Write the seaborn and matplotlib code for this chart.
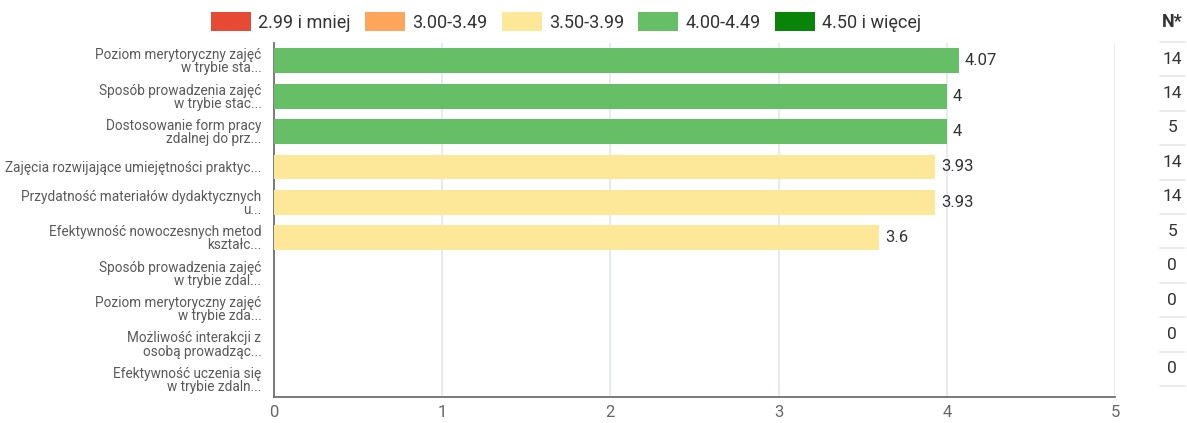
import numpy as np
import pandas as pd
import matplotlib.pyplot as plt
import seaborn as sns
from matplotlib.patches import Patch
from matplotlib.transforms import blended_transform_factory

# data
labels = ["Poziom merytoryczny zajęć\nw trybie sta...",
          "Sposób prowadzenia zajęć\nw trybie stac...",
          "Dostosowanie form pracy\nzdalnej do prz...",
          "Zajęcia rozwijające umiejętności praktyc...",
          "Przydatność materiałów dydaktycznych\nu...",
          "Efektywność nowoczesnych metod\nkształc...",
          "Sposób prowadzenia zajęć\nw trybie zdal...",
          "Poziom merytoryczny zajęć\nw trybie zda...",
          "Możliwość interakcji z\nosobą prowadząc...",
          "Efektywność uczenia się\nw trybie zdaln..."]
scores = [4.07, 4, 4, 3.93, 3.93, 3.6, 0, 0, 0, 0]
n_counts = [14, 14, 5, 14, 14, 5, 0, 0, 0, 0]

ranges = ["2.99 i mniej", "3.00-3.49", "3.50-3.99", "4.00-4.49", "4.50 i więcej"]
range_colors = ["#E64A35", "#FDA65B", "#FDE89A", "#66BF66", "#088408"]
palette = dict(zip(ranges, range_colors))


def score_range(v):
    if v < 3.0:
        return ranges[0]
    if v < 3.5:
        return ranges[1]
    if v < 4.0:
        return ranges[2]
    if v < 4.5:
        return ranges[3]
    return ranges[4]


df = pd.DataFrame({"label": labels, "score": scores, "N": n_counts})
df["range"] = df.score.apply(score_range)

sns.set_style("white")
plt.rcParams['font.family'] = ['Roboto', 'DejaVu Sans']

fig = plt.figure(figsize=(11.87, 4.23), dpi=100)
ax = fig.add_axes([0.2308, 0.0615, 0.7085, 0.8368])

sns.barplot(data=df, x="score", y="label", hue="range", palette=palette,
            hue_order=ranges, dodge=False, width=0.7, linewidth=0,
            saturation=1, legend=False, ax=ax, zorder=3)

ax.set_xlim(0, 5)
ax.set_ylim(9.5, -0.5)
ax.set_xticks(range(6))
ax.set_xlabel("")
ax.set_ylabel("")
ax.grid(axis="x", color="#E3E6EF", linewidth=1.2, zorder=0)
ax.grid(axis="y", visible=False)

for s in ["top", "right"]:
    ax.spines[s].set_visible(False)
for s in ["left", "bottom"]:
    ax.spines[s].set_color("#707070")
    ax.spines[s].set_linewidth(1.3)

ax.tick_params(axis="x", length=0, labelsize=12, labelcolor="#666666", pad=6)
ax.tick_params(axis="y", which="major", length=0, labelsize=9.8,
               labelcolor="#5A5A5A", pad=9)
ax.set_yticks(np.arange(-0.5, 10, 1), minor=True)
ax.tick_params(axis="y", which="minor", length=6, width=1.3, color="#707070")
for t in ax.get_yticklabels():
    t.set_horizontalalignment("right")
    t.set_multialignment("right")
    t.set_linespacing(0.92)

# value labels
for i, v in enumerate(df.score):
    if v > 0:
        ax.text(v + 0.035, i, f"{v:g}", va="center", ha="left",
                fontsize=12, color="#333333")

# N* column on the right
bt = blended_transform_factory(fig.transFigure, fig.transFigure)
fig.text(0.9875, 0.948, "N*", ha="center", va="center", fontsize=13,
         fontweight="bold", color="#333333")
row_top = 1 - 42 / 423
row_h = 34.4 / 423
for i, n in enumerate(df.N):
    yc = row_top - (i + 0.5) * row_h
    fig.text(0.9875, yc, str(n), ha="center", va="center", fontsize=12.5,
             color="#333333")
for i in range(11):
    yl = row_top - i * row_h
    fig.add_artist(plt.Line2D([1160 / 1187, 1185 / 1187], [yl, yl],
                              color="#E8E8E8", linewidth=1.2, transform=bt))

# legend
handles = [Patch(facecolor=palette[r], edgecolor="none", label=r) for r in ranges]
fig.legend(handles=handles, loc="center", bbox_to_anchor=(0.477, 0.948), ncol=5,
           frameon=False, fontsize=13, handlelength=2.2, handleheight=1.2,
           handletextpad=0.4, columnspacing=0.8, labelcolor="#333333")

fig.savefig("out.png", dpi=100)
